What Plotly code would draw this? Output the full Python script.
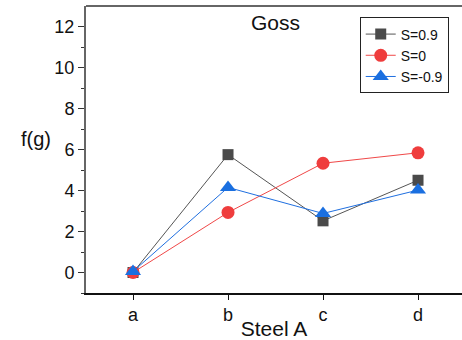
import plotly.graph_objects as go

categories = ["a", "b", "c", "d"]
s_pos = [0.0, 5.75, 2.52, 4.5]
s_zero = [0.0, 2.93, 5.33, 5.84]
s_neg = [0.05, 4.15, 2.88, 4.02]

fig = go.Figure()
x = [0, 1, 2, 3]
fig.add_trace(go.Scatter(x=x, y=s_pos, name="S=0.9", mode="lines+markers",
                         line=dict(color="#555555", width=1),
                         marker=dict(symbol="square", size=11, color="#4a4a4a")))
fig.add_trace(go.Scatter(x=x, y=s_zero, name="S=0", mode="lines+markers",
                         line=dict(color="#f04848", width=1),
                         marker=dict(symbol="circle", size=13, color="#ef3d3d")))
fig.add_trace(go.Scatter(x=x, y=s_neg, name="S=-0.9", mode="lines+markers",
                         line=dict(color="#1f6fe0", width=1),
                         marker=dict(symbol="triangle-up", size=14, color="#1a6fe0")))

font = "Liberation Sans, Arial, sans-serif"
fig.update_layout(
    width=462, height=340,
    margin=dict(l=86, r=0, t=6, b=47),
    plot_bgcolor="white", paper_bgcolor="white",
    font=dict(family=font, size=16, color="#111111"),
    showlegend=True,
    legend=dict(x=0.728, y=0.96, xanchor="left", yanchor="top",
                bordercolor="#222222", borderwidth=1, bgcolor="white",
                font=dict(size=14), tracegroupgap=0, itemwidth=30),
    xaxis=dict(range=[-0.495, 3.463], tickmode="array", tickvals=x, ticktext=categories,
               showgrid=False, zeroline=False, showline=True, linecolor="#111111", linewidth=1.5,
               ticks="outside", ticklen=5, tickcolor="#111111", mirror=False,
               tickfont=dict(size=18),
               title=dict(text="Steel A", font=dict(size=21), standoff=0)),
    yaxis=dict(range=[-1, 13], tickvals=[0, 2, 4, 6, 8, 10, 12],
               showgrid=False, zeroline=False, showline=True, linecolor="#666666", linewidth=2,
               ticks="outside", ticklen=6, tickcolor="#333333",
               tickfont=dict(size=18),
               minor=dict(tickvals=[-1, 1, 3, 5, 7, 9, 11], ticks="outside", ticklen=3, tickcolor="#333333")),
)
# top border line
fig.add_shape(type="line", xref="paper", yref="paper", x0=0, x1=1, y0=1, y1=1,
              line=dict(color="#333333", width=1.5))
fig.add_annotation(text="Goss", xref="paper", yref="paper", x=0.503, y=0.99,
                   xanchor="center", yanchor="top", showarrow=False, font=dict(size=21))
fig.add_annotation(text="f(g)", xref="paper", yref="paper", x=-0.088, y=0.535,
                   xanchor="right", yanchor="middle", showarrow=False, font=dict(size=20))

fig.write_html("out.html", config={"displayModeBar": False},
               post_script=("document.body.style.margin='0px';"
                            "document.body.style.overflow='hidden';"
                            "document.documentElement.style.overflow='hidden';"))
